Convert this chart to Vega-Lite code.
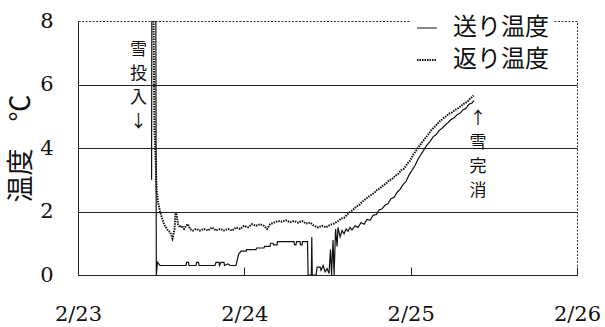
{
  "$schema": "https://vega.github.io/schema/vega-lite/v6.json",
  "width": 499,
  "height": 254,
  "autosize": {"type": "none"},
  "padding": {"left": 78, "top": 21, "right": 28, "bottom": 52},
  "background": "white",
  "config": {
    "view": {"stroke": "#333", "strokeWidth": 1, "strokeDash": [2, 1.5]},
    "font": "DejaVu Serif"
  },
  "datasets": {
    "temps": [
      {"t": "2004-02-23T10:37", "v": 3.0, "s": "送り温度"},
      {"t": "2004-02-23T10:39", "v": 8.0, "s": "送り温度"},
      {"t": "2004-02-23T11:14", "v": 8.0, "s": "送り温度"},
      {"t": "2004-02-23T11:18", "v": 0.0, "s": "送り温度"},
      {"t": "2004-02-23T11:28", "v": 0.4, "s": "送り温度"},
      {"t": "2004-02-23T11:50", "v": 0.3, "s": "送り温度"},
      {"t": "2004-02-23T15:35", "v": 0.3, "s": "送り温度"},
      {"t": "2004-02-23T15:40", "v": 0.4, "s": "送り温度"},
      {"t": "2004-02-23T15:57", "v": 0.4, "s": "送り温度"},
      {"t": "2004-02-23T16:01", "v": 0.3, "s": "送り温度"},
      {"t": "2004-02-23T17:02", "v": 0.3, "s": "送り温度"},
      {"t": "2004-02-23T17:06", "v": 0.4, "s": "送り温度"},
      {"t": "2004-02-23T17:23", "v": 0.4, "s": "送り温度"},
      {"t": "2004-02-23T17:28", "v": 0.3, "s": "送り温度"},
      {"t": "2004-02-23T19:46", "v": 0.3, "s": "送り温度"},
      {"t": "2004-02-23T19:55", "v": 0.4, "s": "送り温度"},
      {"t": "2004-02-23T20:21", "v": 0.4, "s": "送り温度"},
      {"t": "2004-02-23T20:25", "v": 0.3, "s": "送り温度"},
      {"t": "2004-02-23T20:38", "v": 0.4, "s": "送り温度"},
      {"t": "2004-02-23T21:04", "v": 0.4, "s": "送り温度"},
      {"t": "2004-02-23T21:08", "v": 0.3, "s": "送り温度"},
      {"t": "2004-02-23T21:39", "v": 0.35, "s": "送り温度"},
      {"t": "2004-02-23T21:56", "v": 0.3, "s": "送り温度"},
      {"t": "2004-02-23T22:48", "v": 0.3, "s": "送り温度"},
      {"t": "2004-02-23T23:10", "v": 0.65, "s": "送り温度"},
      {"t": "2004-02-23T23:31", "v": 0.75, "s": "送り温度"},
      {"t": "2004-02-24T00:15", "v": 0.75, "s": "送り温度"},
      {"t": "2004-02-24T00:19", "v": 0.8, "s": "送り温度"},
      {"t": "2004-02-24T01:41", "v": 0.8, "s": "送り温度"},
      {"t": "2004-02-24T01:46", "v": 0.85, "s": "送り温度"},
      {"t": "2004-02-24T02:50", "v": 0.85, "s": "送り温度"},
      {"t": "2004-02-24T02:55", "v": 0.9, "s": "送り温度"},
      {"t": "2004-02-24T03:43", "v": 0.9, "s": "送り温度"},
      {"t": "2004-02-24T03:47", "v": 1.0, "s": "送り温度"},
      {"t": "2004-02-24T04:08", "v": 1.0, "s": "送り温度"},
      {"t": "2004-02-24T04:13", "v": 0.95, "s": "送り温度"},
      {"t": "2004-02-24T04:43", "v": 0.95, "s": "送り温度"},
      {"t": "2004-02-24T04:47", "v": 1.05, "s": "送り温度"},
      {"t": "2004-02-24T07:10", "v": 1.05, "s": "送り温度"},
      {"t": "2004-02-24T07:15", "v": 0.95, "s": "送り温度"},
      {"t": "2004-02-24T07:27", "v": 0.95, "s": "送り温度"},
      {"t": "2004-02-24T07:32", "v": 1.05, "s": "送り温度"},
      {"t": "2004-02-24T08:02", "v": 1.05, "s": "送り温度"},
      {"t": "2004-02-24T08:07", "v": 0.95, "s": "送り温度"},
      {"t": "2004-02-24T08:20", "v": 0.95, "s": "送り温度"},
      {"t": "2004-02-24T08:24", "v": 1.05, "s": "送り温度"},
      {"t": "2004-02-24T09:07", "v": 1.05, "s": "送り温度"},
      {"t": "2004-02-24T09:12", "v": 0.0, "s": "送り温度"},
      {"t": "2004-02-24T09:40", "v": 0.0, "s": "送り温度"},
      {"t": "2004-02-24T09:44", "v": 1.2, "s": "送り温度"},
      {"t": "2004-02-24T09:48", "v": 0.0, "s": "送り温度"},
      {"t": "2004-02-24T10:21", "v": 0.0, "s": "送り温度"},
      {"t": "2004-02-24T10:30", "v": 0.25, "s": "送り温度"},
      {"t": "2004-02-24T10:56", "v": 0.25, "s": "送り温度"},
      {"t": "2004-02-24T11:04", "v": 0.15, "s": "送り温度"},
      {"t": "2004-02-24T11:22", "v": 0.3, "s": "送り温度"},
      {"t": "2004-02-24T11:39", "v": 0.1, "s": "送り温度"},
      {"t": "2004-02-24T11:56", "v": 0.2, "s": "送り温度"},
      {"t": "2004-02-24T12:13", "v": 0.05, "s": "送り温度"},
      {"t": "2004-02-24T12:26", "v": 0.8, "s": "送り温度"},
      {"t": "2004-02-24T12:35", "v": 0.0, "s": "送り温度"},
      {"t": "2004-02-24T12:48", "v": 1.1, "s": "送り温度"},
      {"t": "2004-02-24T12:57", "v": 0.0, "s": "送り温度"},
      {"t": "2004-02-24T13:10", "v": 1.45, "s": "送り温度"},
      {"t": "2004-02-24T13:23", "v": 0.9, "s": "送り温度"},
      {"t": "2004-02-24T13:31", "v": 1.5, "s": "送り温度"},
      {"t": "2004-02-24T13:49", "v": 1.2, "s": "送り温度"},
      {"t": "2004-02-24T14:06", "v": 1.4, "s": "送り温度"},
      {"t": "2004-02-24T14:23", "v": 1.3, "s": "送り温度"},
      {"t": "2004-02-24T14:41", "v": 1.45, "s": "送り温度"},
      {"t": "2004-02-24T14:58", "v": 1.38, "s": "送り温度"},
      {"t": "2004-02-24T15:15", "v": 1.5, "s": "送り温度"},
      {"t": "2004-02-24T15:32", "v": 1.42, "s": "送り温度"},
      {"t": "2004-02-24T15:59", "v": 1.55, "s": "送り温度"},
      {"t": "2004-02-24T16:25", "v": 1.5, "s": "送り温度"},
      {"t": "2004-02-24T16:50", "v": 1.65, "s": "送り温度"},
      {"t": "2004-02-24T17:17", "v": 1.6, "s": "送り温度"},
      {"t": "2004-02-24T17:43", "v": 1.75, "s": "送り温度"},
      {"t": "2004-02-24T18:08", "v": 1.72, "s": "送り温度"},
      {"t": "2004-02-24T18:35", "v": 1.88, "s": "送り温度"},
      {"t": "2004-02-24T19:01", "v": 1.9, "s": "送り温度"},
      {"t": "2004-02-24T19:26", "v": 2.05, "s": "送り温度"},
      {"t": "2004-02-24T19:52", "v": 2.08, "s": "送り温度"},
      {"t": "2004-02-24T20:18", "v": 2.2, "s": "送り温度"},
      {"t": "2004-02-24T20:44", "v": 2.25, "s": "送り温度"},
      {"t": "2004-02-24T21:10", "v": 2.4, "s": "送り温度"},
      {"t": "2004-02-24T21:37", "v": 2.45, "s": "送り温度"},
      {"t": "2004-02-24T22:02", "v": 2.6, "s": "送り温度"},
      {"t": "2004-02-24T22:28", "v": 2.7, "s": "送り温度"},
      {"t": "2004-02-24T22:54", "v": 2.85, "s": "送り温度"},
      {"t": "2004-02-24T23:20", "v": 2.95, "s": "送り温度"},
      {"t": "2004-02-24T23:46", "v": 3.15, "s": "送り温度"},
      {"t": "2004-02-25T00:12", "v": 3.3, "s": "送り温度"},
      {"t": "2004-02-25T00:38", "v": 3.45, "s": "送り温度"},
      {"t": "2004-02-25T01:04", "v": 3.65, "s": "送り温度"},
      {"t": "2004-02-25T01:30", "v": 3.8, "s": "送り温度"},
      {"t": "2004-02-25T01:56", "v": 3.95, "s": "送り温度"},
      {"t": "2004-02-25T02:22", "v": 4.1, "s": "送り温度"},
      {"t": "2004-02-25T02:47", "v": 4.2, "s": "送り温度"},
      {"t": "2004-02-25T03:14", "v": 4.35, "s": "送り温度"},
      {"t": "2004-02-25T03:40", "v": 4.42, "s": "送り温度"},
      {"t": "2004-02-25T04:06", "v": 4.55, "s": "送り温度"},
      {"t": "2004-02-25T04:32", "v": 4.62, "s": "送り温度"},
      {"t": "2004-02-25T04:58", "v": 4.72, "s": "送り温度"},
      {"t": "2004-02-25T05:24", "v": 4.8, "s": "送り温度"},
      {"t": "2004-02-25T05:50", "v": 4.9, "s": "送り温度"},
      {"t": "2004-02-25T06:16", "v": 4.95, "s": "送り温度"},
      {"t": "2004-02-25T06:42", "v": 5.05, "s": "送り温度"},
      {"t": "2004-02-25T07:08", "v": 5.1, "s": "送り温度"},
      {"t": "2004-02-25T07:34", "v": 5.2, "s": "送り温度"},
      {"t": "2004-02-25T07:59", "v": 5.25, "s": "送り温度"},
      {"t": "2004-02-25T08:26", "v": 5.38, "s": "送り温度"},
      {"t": "2004-02-25T08:52", "v": 5.42, "s": "送り温度"},
      {"t": "2004-02-25T09:09", "v": 5.5, "s": "送り温度"},

      {"t": "2004-02-23T10:54", "v": 8.0, "s": "返り温度"},
      {"t": "2004-02-23T11:02", "v": 4.6, "s": "返り温度"},
      {"t": "2004-02-23T11:11", "v": 3.8, "s": "返り温度"},
      {"t": "2004-02-23T11:20", "v": 2.7, "s": "返り温度"},
      {"t": "2004-02-23T11:33", "v": 2.3, "s": "返り温度"},
      {"t": "2004-02-23T11:50", "v": 2.0, "s": "返り温度"},
      {"t": "2004-02-23T12:07", "v": 1.8, "s": "返り温度"},
      {"t": "2004-02-23T12:25", "v": 1.6, "s": "返り温度"},
      {"t": "2004-02-23T12:42", "v": 1.5, "s": "返り温度"},
      {"t": "2004-02-23T12:59", "v": 1.4, "s": "返り温度"},
      {"t": "2004-02-23T13:17", "v": 1.35, "s": "返り温度"},
      {"t": "2004-02-23T13:29", "v": 1.25, "s": "返り温度"},
      {"t": "2004-02-23T13:38", "v": 1.15, "s": "返り温度"},
      {"t": "2004-02-23T13:47", "v": 1.3, "s": "返り温度"},
      {"t": "2004-02-23T13:56", "v": 1.45, "s": "返り温度"},
      {"t": "2004-02-23T14:04", "v": 1.95, "s": "返り温度"},
      {"t": "2004-02-23T14:13", "v": 1.9, "s": "返り温度"},
      {"t": "2004-02-23T14:26", "v": 1.6, "s": "返り温度"},
      {"t": "2004-02-23T14:43", "v": 1.5, "s": "返り温度"},
      {"t": "2004-02-23T15:00", "v": 1.55, "s": "返り温度"},
      {"t": "2004-02-23T15:18", "v": 1.45, "s": "返り温度"},
      {"t": "2004-02-23T15:35", "v": 1.55, "s": "返り温度"},
      {"t": "2004-02-23T15:52", "v": 1.6, "s": "返り温度"},
      {"t": "2004-02-23T16:10", "v": 1.45, "s": "返り温度"},
      {"t": "2004-02-23T16:36", "v": 1.4, "s": "返り温度"},
      {"t": "2004-02-23T17:02", "v": 1.45, "s": "返り温度"},
      {"t": "2004-02-23T17:36", "v": 1.4, "s": "返り温度"},
      {"t": "2004-02-23T18:11", "v": 1.45, "s": "返り温度"},
      {"t": "2004-02-23T18:46", "v": 1.4, "s": "返り温度"},
      {"t": "2004-02-23T19:20", "v": 1.5, "s": "返り温度"},
      {"t": "2004-02-23T19:55", "v": 1.4, "s": "返り温度"},
      {"t": "2004-02-23T20:29", "v": 1.45, "s": "返り温度"},
      {"t": "2004-02-23T21:04", "v": 1.4, "s": "返り温度"},
      {"t": "2004-02-23T21:39", "v": 1.45, "s": "返り温度"},
      {"t": "2004-02-23T22:14", "v": 1.4, "s": "返り温度"},
      {"t": "2004-02-23T22:48", "v": 1.5, "s": "返り温度"},
      {"t": "2004-02-23T23:23", "v": 1.45, "s": "返り温度"},
      {"t": "2004-02-23T23:58", "v": 1.55, "s": "返り温度"},
      {"t": "2004-02-24T00:32", "v": 1.5, "s": "返り温度"},
      {"t": "2004-02-24T01:07", "v": 1.6, "s": "返り温度"},
      {"t": "2004-02-24T01:41", "v": 1.55, "s": "返り温度"},
      {"t": "2004-02-24T02:16", "v": 1.6, "s": "返り温度"},
      {"t": "2004-02-24T02:50", "v": 1.55, "s": "返り温度"},
      {"t": "2004-02-24T03:17", "v": 1.45, "s": "返り温度"},
      {"t": "2004-02-24T03:43", "v": 1.6, "s": "返り温度"},
      {"t": "2004-02-24T04:17", "v": 1.65, "s": "返り温度"},
      {"t": "2004-02-24T04:52", "v": 1.7, "s": "返り温度"},
      {"t": "2004-02-24T05:26", "v": 1.68, "s": "返り温度"},
      {"t": "2004-02-24T06:01", "v": 1.72, "s": "返り温度"},
      {"t": "2004-02-24T06:36", "v": 1.66, "s": "返り温度"},
      {"t": "2004-02-24T07:10", "v": 1.7, "s": "返り温度"},
      {"t": "2004-02-24T07:45", "v": 1.65, "s": "返り温度"},
      {"t": "2004-02-24T08:20", "v": 1.7, "s": "返り温度"},
      {"t": "2004-02-24T08:54", "v": 1.62, "s": "返り温度"},
      {"t": "2004-02-24T09:29", "v": 1.65, "s": "返り温度"},
      {"t": "2004-02-24T10:04", "v": 1.55, "s": "返り温度"},
      {"t": "2004-02-24T10:38", "v": 1.5, "s": "返り温度"},
      {"t": "2004-02-24T11:13", "v": 1.55, "s": "返り温度"},
      {"t": "2004-02-24T11:47", "v": 1.5, "s": "返り温度"},
      {"t": "2004-02-24T12:22", "v": 1.58, "s": "返り温度"},
      {"t": "2004-02-24T12:57", "v": 1.62, "s": "返り温度"},
      {"t": "2004-02-24T13:31", "v": 1.7, "s": "返り温度"},
      {"t": "2004-02-24T13:58", "v": 1.78, "s": "返り温度"},
      {"t": "2004-02-24T14:23", "v": 1.8, "s": "返り温度"},
      {"t": "2004-02-24T14:49", "v": 1.9, "s": "返り温度"},
      {"t": "2004-02-24T15:15", "v": 1.98, "s": "返り温度"},
      {"t": "2004-02-24T15:41", "v": 2.05, "s": "返り温度"},
      {"t": "2004-02-24T16:07", "v": 2.15, "s": "返り温度"},
      {"t": "2004-02-24T16:33", "v": 2.2, "s": "返り温度"},
      {"t": "2004-02-24T16:59", "v": 2.3, "s": "返り温度"},
      {"t": "2004-02-24T17:25", "v": 2.38, "s": "返り温度"},
      {"t": "2004-02-24T17:51", "v": 2.45, "s": "返り温度"},
      {"t": "2004-02-24T18:17", "v": 2.52, "s": "返り温度"},
      {"t": "2004-02-24T18:43", "v": 2.58, "s": "返り温度"},
      {"t": "2004-02-24T19:09", "v": 2.68, "s": "返り温度"},
      {"t": "2004-02-24T19:35", "v": 2.73, "s": "返り温度"},
      {"t": "2004-02-24T20:01", "v": 2.82, "s": "返り温度"},
      {"t": "2004-02-24T20:27", "v": 2.88, "s": "返り温度"},
      {"t": "2004-02-24T20:53", "v": 2.98, "s": "返り温度"},
      {"t": "2004-02-24T21:19", "v": 3.02, "s": "返り温度"},
      {"t": "2004-02-24T21:45", "v": 3.12, "s": "返り温度"},
      {"t": "2004-02-24T22:11", "v": 3.18, "s": "返り温度"},
      {"t": "2004-02-24T22:37", "v": 3.3, "s": "返り温度"},
      {"t": "2004-02-24T23:03", "v": 3.35, "s": "返り温度"},
      {"t": "2004-02-24T23:29", "v": 3.5, "s": "返り温度"},
      {"t": "2004-02-24T23:55", "v": 3.6, "s": "返り温度"},
      {"t": "2004-02-25T00:21", "v": 3.78, "s": "返り温度"},
      {"t": "2004-02-25T00:47", "v": 3.92, "s": "返り温度"},
      {"t": "2004-02-25T01:13", "v": 4.05, "s": "返り温度"},
      {"t": "2004-02-25T01:38", "v": 4.18, "s": "返り温度"},
      {"t": "2004-02-25T02:05", "v": 4.3, "s": "返り温度"},
      {"t": "2004-02-25T02:31", "v": 4.42, "s": "返り温度"},
      {"t": "2004-02-25T02:56", "v": 4.55, "s": "返り温度"},
      {"t": "2004-02-25T03:23", "v": 4.65, "s": "返り温度"},
      {"t": "2004-02-25T03:49", "v": 4.75, "s": "返り温度"},
      {"t": "2004-02-25T04:14", "v": 4.85, "s": "返り温度"},
      {"t": "2004-02-25T04:41", "v": 4.93, "s": "返り温度"},
      {"t": "2004-02-25T05:07", "v": 5.0, "s": "返り温度"},
      {"t": "2004-02-25T05:32", "v": 5.08, "s": "返り温度"},
      {"t": "2004-02-25T05:59", "v": 5.12, "s": "返り温度"},
      {"t": "2004-02-25T06:25", "v": 5.2, "s": "返り温度"},
      {"t": "2004-02-25T06:50", "v": 5.25, "s": "返り温度"},
      {"t": "2004-02-25T07:16", "v": 5.32, "s": "返り温度"},
      {"t": "2004-02-25T07:43", "v": 5.4, "s": "返り温度"},
      {"t": "2004-02-25T08:08", "v": 5.45, "s": "返り温度"},
      {"t": "2004-02-25T08:34", "v": 5.55, "s": "返り温度"},
      {"t": "2004-02-25T09:05", "v": 5.65, "s": "返り温度"}
    ],
    "notes": [
      {"t": "2004-02-23T08:44", "v": 7.09, "label": "雪\n投\n入\n↓"},
      {"t": "2004-02-25T09:44", "v": 4.91, "label": "↑\n雪\n完\n消"}
    ]
  },
  "encoding": {
    "x": {
      "field": "t",
      "type": "temporal",
      "title": null,
      "scale": {"domain": [{"year": 2004, "month": 2, "date": 23}, {"year": 2004, "month": 2, "date": 26}]},
      "axis": {
        "values": [
          {"year": 2004, "month": 2, "date": 23},
          {"year": 2004, "month": 2, "date": 24},
          {"year": 2004, "month": 2, "date": 25},
          {"year": 2004, "month": 2, "date": 26}
        ],
        "format": "%-m/%-d",
        "grid": false,
        "labelFont": "DejaVu Serif",
        "labelFontSize": 21,
        "labelColor": "#111",
        "labelFlush": false,
        "labelOverlap": false,
        "labelPadding": 36,
        "tickSize": -8,
        "tickColor": "#222",
        "domainColor": "#222"
      }
    },
    "y": {
      "field": "v",
      "type": "quantitative",
      "title": "温度　℃",
      "scale": {"domain": [0, 8], "nice": false},
      "axis": {
        "values": [0, 2, 4, 6, 8],
        "grid": true,
        "gridColor": {"condition": {"test": "datum.value >= 8", "value": "transparent"}, "value": "#222"},
        "labelFont": "DejaVu Serif",
        "labelFontSize": 21,
        "labelColor": "#111",
        "labelFlush": false,
        "labelPadding": 25,
        "tickSize": 0,
        "domainColor": "#222",
        "titleFont": "Noto Sans CJK JP",
        "titleFontSize": 27,
        "titleFontWeight": "normal",
        "titleColor": "#111",
        "titlePadding": 4
      }
    }
  },
  "layer": [
    {
      "data": {"name": "temps"},
      "mark": {"type": "line", "clip": true, "color": "#111"},
      "encoding": {
        "strokeDash": {
          "field": "s",
          "type": "nominal",
          "scale": {"domain": ["送り温度", "返り温度"], "range": [[1, 0], [1.5, 1]]},
          "legend": {
            "title": null,
            "orient": "none",
            "legendX": 333,
            "legendY": -9,
            "symbolType": "stroke",
            "symbolSize": 400,
            "symbolStrokeWidth": 1.5,
            "symbolStrokeColor": "#111",
            "labelFont": "Noto Sans CJK JP",
            "labelFontSize": 24,
            "labelColor": "#111",
            "labelOffset": 14,
            "fillColor": "white",
            "padding": 4,
            "rowPadding": 8
          }
        },
        "strokeWidth": {
          "field": "s",
          "type": "ordinal",
          "scale": {"domain": ["送り温度", "返り温度"], "range": [1.2, 2]},
          "legend": null
        }
      }
    },
    {
      "data": {"name": "notes"},
      "mark": {
        "type": "text",
        "font": "Noto Sans CJK JP",
        "fontSize": 17,
        "lineHeight": 24,
        "lineBreak": "\n",
        "align": "center",
        "baseline": "middle",
        "color": "#111"
      },
      "encoding": {
        "text": {"field": "label"}
      }
    }
  ]
}
